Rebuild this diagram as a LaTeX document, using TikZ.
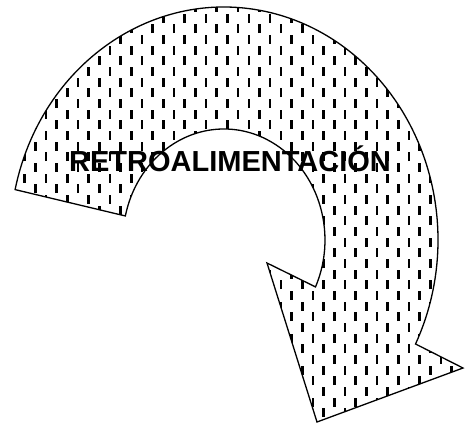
\documentclass[tikz,border=0pt]{standalone}
\usepackage{fontspec}
\setmainfont{Liberation Sans}
\usepackage{tikz}
\usetikzlibrary{positioning}

\begin{document}
\begin{tikzpicture}[x=1pt, y=1pt, line join=miter]
  \useasboundingbox (0,0) rectangle (468,424);

  % Curved arrow outline (outer and inner arcs share one centre)
  \path[save path=\arrowshape]
    (15.1,234.4) arc[start angle=167.5, end angle=-26.5, x radius=214, y radius=233]
    -- (463,56) -- (317,2) -- (267,161) -- (315.5,137.1)
    arc[start angle=-25, end angle=167.5, x radius=101, y radius=111] -- cycle;

  % Fill: staggered short vertical dashes
  \begin{scope}
    \clip[use path=\arrowshape];
    \foreach \k in {-13,...,29} {
      \pgfmathsetmacro\xk{152.7+10.68*\k}
      \pgfmathsetmacro\yk{-14.5-10.67*mod(\k+100,2)}
      \draw[line width=2.6pt, dash pattern=on 9pt off 12.33pt] (\xk,\yk) -- (\xk,430);
    }
  \end{scope}
  \draw[black, line width=1.3pt, use path=\arrowshape];

  % Label
  \node[anchor=base, inner sep=0pt, font=\bfseries\fontsize{29}{29}\selectfont] (label) at (230,252.3) {RETROALIMENTACIÓN};
\end{tikzpicture}
\end{document}
